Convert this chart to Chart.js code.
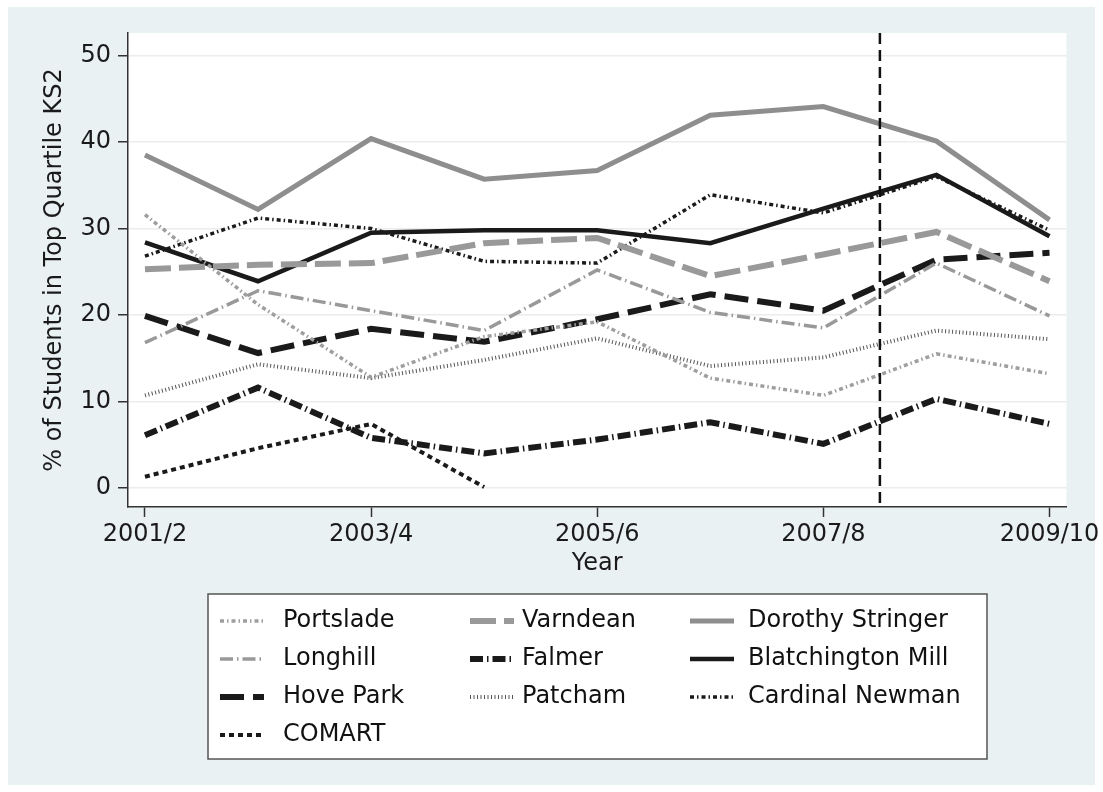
<!DOCTYPE html>
<html lang="en">
<head>
  <meta charset="UTF-8">
  <title>% of Students in Top Quartile KS2</title>
  <script src="https://cdn.jsdelivr.net/npm/chart.js"></script>
  <style>
    html, body {
      margin: 0;
      padding: 0;
      background: #ffffff;
    }
    canvas {
      display: block;
    }
  </style>
</head>
<body>

  <canvas id="grafico" width="1103" height="792"></canvas>

  <script>
    // school years on the x axis (only every second one is labelled)
    const years = ['2001/2', '2002/3', '2003/4', '2004/5', '2005/6', '2006/7', '2007/8', '2008/9', '2009/10'];
    const labelledYears = [0, 2, 4, 6, 8];
    const yTicks = [0, 10, 20, 30, 40, 50];

    // % of students in top quartile KS2, per school
    const portslade      = [31.6, 21.2, 12.8, 17.5, 19.2, 12.7, 10.7, 15.5, 13.2];
    const varndean       = [25.3, 25.8, 26.0, 28.3, 28.9, 24.5, 27.0, 29.6, 23.9];
    const dorothyStringer = [38.5, 32.2, 40.4, 35.7, 36.7, 43.1, 44.1, 40.1, 31.0];
    const longhill       = [16.8, 22.8, 20.5, 18.2, 25.2, 20.3, 18.5, 26.0, 19.9];
    const falmer         = [6.1, 11.6, 5.8, 4.0, 5.6, 7.6, 5.1, 10.3, 7.4];
    const blatchington   = [28.4, 23.9, 29.5, 29.8, 29.8, 28.3, 32.3, 36.2, 29.1];
    const hovePark       = [19.9, 15.6, 18.4, 16.9, 19.5, 22.4, 20.5, 26.4, 27.2];
    const patcham        = [10.7, 14.3, 12.7, 14.8, 17.3, 14.1, 15.1, 18.2, 17.2];
    const cardinalNewman = [26.8, 31.2, 30.0, 26.2, 26.0, 33.9, 31.8, 36.0, 29.8];
    const comart         = [1.3, 4.6, 7.4, 0.1, null, null, null, null, null];

    // dashed reference line sits between 2007/8 and 2008/9
    const cutoffYear = 6.5;

    const FONT = 'DejaVu Sans';
    const GREY = '#999999';
    const BLACK = '#1a1a1a';

    function serie(label, values, color, width, dash) {
      return {
        label,
        data: values.map((v, i) => ({ x: i, y: v })),
        borderColor: color,
        borderWidth: width,
        borderDash: dash,
        fill: false,
        pointRadius: 0,
        tension: 0,
        spanGaps: false
      };
    }

    const datasets = [
      serie('Portslade', portslade, '#9e9e9e', 3.5, [4, 3, 1.5, 3]),
      serie('Varndean', varndean, GREY, 6, [26, 8]),
      serie('Dorothy Stringer', dorothyStringer, '#8e8e8e', 5, []),
      serie('Longhill', longhill, GREY, 3.5, [13, 4, 1.5, 4]),
      serie('Falmer', falmer, BLACK, 6, [13, 4, 1.5, 4]),
      serie('Blatchington Mill', blatchington, BLACK, 4.5, []),
      serie('Hove Park', hovePark, BLACK, 6, [24, 9]),
      serie('Patcham', patcham, '#555555', 4, [1, 2.5]),
      serie('Cardinal Newman', cardinalNewman, BLACK, 3.5, [4, 3, 1.5, 3]),
      serie('COMART', comart, BLACK, 4, [5, 4])
    ];

    // Stata style frame: white margin, blue-grey graph region, white plot region
    const fondo = {
      id: 'fondo',
      beforeDraw(c) {
        const { ctx, chartArea: a } = c;
        ctx.save();
        ctx.fillStyle = '#ffffff';
        ctx.fillRect(0, 0, c.width, c.height);
        ctx.fillStyle = '#eaf1f3';
        ctx.fillRect(8, 7, c.width - 16, c.height - 14);
        ctx.fillStyle = '#ffffff';
        ctx.fillRect(a.left, a.top, a.right - a.left, a.bottom - a.top);
        ctx.restore();
      }
    };

    const lineaCorte = {
      id: 'lineaCorte',
      afterDatasetsDraw(c) {
        const { ctx, chartArea: a, scales } = c;
        const x = scales.x.getPixelForValue(cutoffYear);
        ctx.save();
        ctx.strokeStyle = '#111111';
        ctx.lineWidth = 2.5;
        ctx.setLineDash([11, 6]);
        ctx.beginPath();
        ctx.moveTo(x, a.top);
        ctx.lineTo(x, a.bottom);
        ctx.stroke();
        ctx.restore();
      }
    };

    // three-column legend in a box under the plot
    const leyenda = {
      id: 'leyenda',
      afterDraw(c) {
        const ctx = c.ctx;
        const box = { x: 208, y: 594, w: 779, h: 165 };
        const sampleX = [220, 470, 690];
        const textX = [283, 522, 748];
        ctx.save();
        ctx.fillStyle = '#ffffff';
        ctx.fillRect(box.x, box.y, box.w, box.h);
        ctx.strokeStyle = '#555555';
        ctx.lineWidth = 1.5;
        ctx.strokeRect(box.x, box.y, box.w, box.h);
        ctx.font = '24px "' + FONT + '"';
        ctx.textBaseline = 'middle';
        c.data.datasets.forEach((ds, i) => {
          const col = i % 3;
          const row = Math.floor(i / 3);
          const y = 621 + row * 38;
          ctx.strokeStyle = ds.borderColor;
          ctx.lineWidth = ds.borderWidth;
          ctx.setLineDash(ds.borderDash);
          ctx.beginPath();
          ctx.moveTo(sampleX[col], y);
          ctx.lineTo(sampleX[col] + 44, y);
          ctx.stroke();
          ctx.setLineDash([]);
          ctx.fillStyle = '#111111';
          ctx.fillText(ds.label, textX[col], y);
        });
        ctx.restore();
      }
    };

    const tickFont = { family: FONT, size: 24, lineHeight: 1.2 };

    new Chart(document.getElementById('grafico'), {
      type: 'line',
      data: { datasets },
      options: {
        responsive: false,
        animation: false,
        devicePixelRatio: 1,
        layout: { padding: { left: 0, top: 33, right: 36, bottom: 0 } },
        plugins: {
          legend: { display: false },
          tooltip: { enabled: false }
        },
        scales: {
          x: {
            type: 'linear',
            min: -0.15,
            max: 8.15,
            afterBuildTicks: s => { s.ticks = labelledYears.map(v => ({ value: v })); },
            afterFit: s => { s.height = 285; },
            ticks: {
              callback: v => years[v],
              font: tickFont,
              color: '#1a1a1a',
              padding: 3,
              maxRotation: 0,
              autoSkip: false
            },
            grid: { drawOnChartArea: false, tickColor: '#333333', tickLength: 10, tickWidth: 1.5 },
            border: { color: '#333333', width: 1.5 },
            title: {
              display: true,
              text: 'Year',
              font: tickFont,
              color: '#1a1a1a',
              padding: { top: 0, bottom: 214 }
            }
          },
          y: {
            min: -2.2,
            max: 52.6,
            afterBuildTicks: s => { s.ticks = yTicks.map(v => ({ value: v })); },
            afterFit: s => { s.width = 128; },
            ticks: {
              font: tickFont,
              color: '#1a1a1a',
              padding: 7
            },
            grid: { color: '#ececec', lineWidth: 1.5, tickColor: '#333333', tickLength: 10, tickWidth: 1.5 },
            border: { color: '#333333', width: 1.5 },
            title: {
              display: true,
              text: '% of Students in Top Quartile KS2',
              font: tickFont,
              color: '#1a1a1a',
              padding: { top: 40, bottom: 0 }
            }
          }
        }
      },
      plugins: [fondo, lineaCorte, leyenda]
    });
  </script>

</body>
</html>
